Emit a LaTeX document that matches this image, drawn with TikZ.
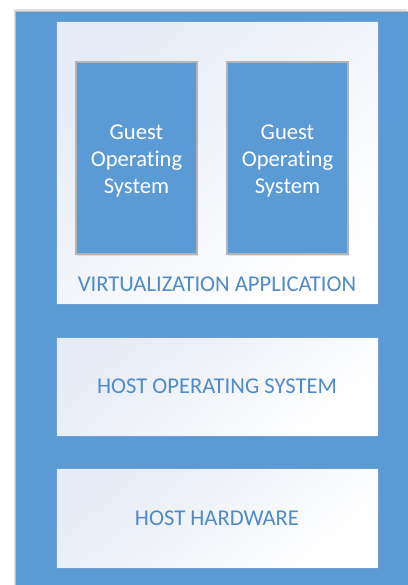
\documentclass[tikz,border=0pt]{standalone}
\usepackage{fontspec}
\setmainfont{Carlito}[Ligatures={NoCommon}]
\usetikzlibrary{shadows}
\definecolor{bgblue}{HTML}{5B9BD5}
\definecolor{txtblue}{HTML}{4F8BC9}
\definecolor{wbord}{HTML}{6E9FD3}
\definecolor{gbord}{HTML}{B4B4B4}
\definecolor{tint}{HTML}{E6EBF5}
\tikzset{
  x=1pt, y=-1pt,
  whitebox/.style={draw=wbord, line width=1pt, inner sep=0pt, outer sep=0pt,
    minimum width=322pt, left color=tint, right color=white, shading angle=40,
    text=txtblue, font=\fontsize{22.6}{27}\selectfont},
  guestbox/.style={draw=gbord, line width=1.5pt, fill=bgblue, inner sep=0pt, outer sep=0pt,
    minimum width=121pt, minimum height=192pt, text=white, align=center,
    font=\fontsize{22.6}{27}\selectfont,
    drop shadow={shadow xshift=1pt, shadow yshift=-2pt, opacity=0.25, fill=black!40}},
  gtext/.style={text=white, align=center, inner sep=0pt, font=\fontsize{22.6}{27}\selectfont},
  lbl/.style={text=txtblue, inner sep=0pt, font=\fontsize{22.6}{27}\selectfont}
}
\begin{document}
\begin{tikzpicture}
\useasboundingbox (0,0) rectangle (407,585);
\fill[white] (0,0) rectangle (407,585);
\fill[black!12] (13.5,9.5) rectangle (407,585);
\node[draw=black!25, line width=0.8pt, fill=bgblue, inner sep=0pt, outer sep=0pt,
  minimum width=393pt, minimum height=575pt, anchor=north west] (bg) at (15,11) {};
\node[whitebox, minimum height=282.5pt] (virt) at (217,163.25) {};
\node[lbl] (virtlbl) at (217,284) {VIRTUALIZATION APPLICATION};
\node[guestbox] (g1) at (136.5,158) {};
\node[guestbox] (g2) at (287.5,158) {};
\node[gtext] (g1t) at (136.5,160.5) {Guest\\Operating\\System};
\node[gtext] (g2t) at (287.5,160.5) {Guest\\Operating\\System};
\node[whitebox, minimum height=99pt] (hos) at (217,386.5) {HOST OPERATING SYSTEM};
\node[whitebox, minimum height=100pt] (hhw) at (217,518) {HOST HARDWARE};
\end{tikzpicture}
\end{document}
